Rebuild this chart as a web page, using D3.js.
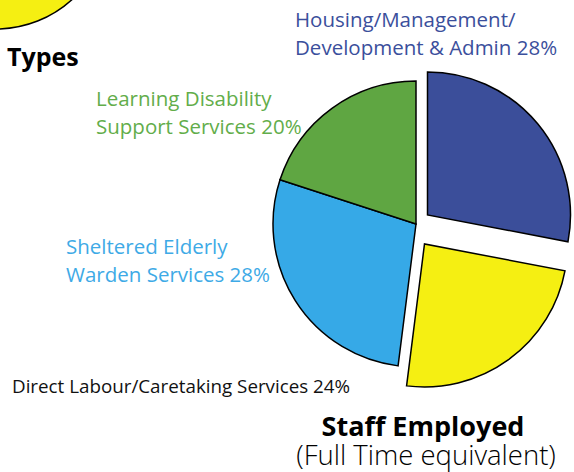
<!DOCTYPE html>
<html>
<head>
    <meta charset="utf-8" />
    <title>Staff Employed</title>
    <script src="https://cdn.jsdelivr.net/npm/d3@7"></script>
    <style>
        body { margin: 0; background: #fff; }
        svg text { font-family: "Open Sans", "Noto Sans", sans-serif; }
        .slice { stroke: #000; stroke-width: 1.5px; }
    </style>
</head>
<body>
    <svg width="574" height="472"></svg>
    <script>
        // staff employed by service (full time equivalent), clockwise from 12 o'clock
        var services = ['Housing/Management/Development & Admin', 'Direct Labour/Caretaking Services',
                        'Sheltered Elderly Warden Services', 'Learning Disability Support Services'];
        var shares = [28, 24, 28, 20];
        var colours = ['#3b4e9a', '#f5ef12', '#36a9e7', '#5fa642'];
        var labelLines = [
            ['Housing/Management/', 'Development & Admin 28%'],
            ['Direct Labour/Caretaking Services 24%'],
            ['Sheltered Elderly', 'Warden Services 28%'],
            ['Learning Disability', 'Support Services 20%']
        ];

        var svg = d3.select('svg');
        var cx = 416, cy = 224, radius = 143;

        // piece of the neighbouring "Types" pie, cut off at the top-left
        svg.append('circle')
            .attr('cx', -4).attr('cy', -84).attr('r', 113)
            .attr('fill', '#f5ef12').attr('stroke', '#000').attr('stroke-width', 1.5);
        svg.append('text')
            .attr('x', 7).attr('y', 66)
            .attr('font-size', 25).attr('font-weight', 'bold')
            .text('Types');

        var pie = d3.pie().sort(null).value(function (d) { return d; });
        var arc = d3.arc().innerRadius(0).outerRadius(radius);

        // exploded slices are pulled away from the centre
        var explode = [[11.5, -9], [8.5, 20], [0, 0], [0, 0]];

        svg.append('g')
            .attr('transform', 'translate(' + cx + ',' + cy + ')')
            .selectAll('path')
            .data(pie(shares))
            .enter().append('path')
            .attr('class', 'slice')
            .attr('fill', function (d, i) { return colours[i]; })
            .attr('transform', function (d, i) { return 'translate(' + explode[i][0] + ',' + explode[i][1] + ')'; })
            .attr('d', arc);

        // labels
        var labelPos = [
            { x: 295, y: 27, color: '#3b4f9c', size: 20.5 },
            { x: 12, y: 393, color: '#111', size: 18.8 },
            { x: 66, y: 254, color: '#3eaae6', size: 20.5 },
            { x: 96, y: 106, color: '#62ad4a', size: 20.5 }
        ];

        labelLines.forEach(function (lines, i) {
            var t = svg.append('text')
                .attr('x', labelPos[i].x).attr('y', labelPos[i].y)
                .attr('fill', labelPos[i].color)
                .attr('font-size', labelPos[i].size);
            lines.forEach(function (l, j) {
                t.append('tspan').attr('x', labelPos[i].x).attr('dy', j ? 27.5 : 0).text(l);
            });
        });

        svg.append('text')
            .attr('x', 423).attr('y', 436)
            .attr('text-anchor', 'middle')
            .attr('font-size', 27).attr('font-weight', 'bold')
            .text('Staff Employed');
        svg.append('text')
            .attr('x', 426).attr('y', 465)
            .attr('text-anchor', 'middle')
            .attr('font-size', 27.5).attr('font-weight', 300)
            .text('(Full Time equivalent)');
    </script>
</body>
</html>
